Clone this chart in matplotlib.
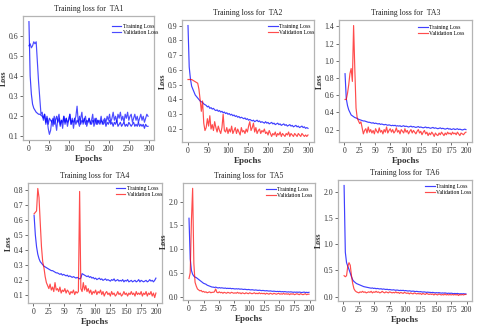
import matplotlib
matplotlib.use("Agg")
import matplotlib.pyplot as plt
import numpy as np
from matplotlib.ticker import MultipleLocator

plt.rcParams["font.family"] = ["Liberation Serif", "DejaVu Serif"]

# epochs sampled every 3 (300-epoch runs) or every 2 (200-epoch runs)
EPOCHS_300 = np.arange(1, 301, 3)
EPOCHS_200 = np.arange(1, 201, 2)

TA1_TRAIN = [
    0.67, 0.40, 0.31, 0.26, 0.24, 0.23, 0.22, 0.215, 0.21, 0.21,
    0.205, 0.20, 0.19, 0.21, 0.17, 0.20, 0.16, 0.19, 0.18, 0.17,
    0.19, 0.16, 0.18, 0.20, 0.17, 0.19, 0.15, 0.18, 0.17, 0.20,
    0.16, 0.19, 0.17, 0.18, 0.21, 0.16, 0.18, 0.17, 0.19, 0.16,
    0.18, 0.17, 0.20, 0.16, 0.18, 0.17, 0.19, 0.16, 0.18, 0.17,
    0.19, 0.17, 0.16, 0.18, 0.17, 0.19, 0.16, 0.18, 0.17, 0.16,
    0.18, 0.17, 0.16, 0.18, 0.15, 0.17, 0.16, 0.18, 0.16, 0.17,
    0.15, 0.17, 0.16, 0.18, 0.15, 0.16, 0.17, 0.15, 0.16, 0.17,
    0.15, 0.16, 0.15, 0.17, 0.16, 0.15, 0.16, 0.17, 0.15, 0.16,
    0.15, 0.17, 0.15, 0.16, 0.15, 0.16, 0.14, 0.16, 0.15, 0.15,
]
TA1_VAL = [
    0.55, 0.56, 0.54, 0.55, 0.57, 0.56, 0.57, 0.47, 0.37, 0.29,
    0.21, 0.22, 0.18, 0.21, 0.16, 0.19, 0.14, 0.11, 0.13, 0.18,
    0.15, 0.20, 0.17, 0.13, 0.19, 0.21, 0.16, 0.18, 0.14, 0.20,
    0.17, 0.19, 0.15, 0.18, 0.21, 0.16, 0.19, 0.14, 0.18, 0.20,
    0.25, 0.17, 0.15, 0.19, 0.22, 0.16, 0.18, 0.20, 0.15, 0.17,
    0.19, 0.16, 0.18, 0.21, 0.15, 0.17, 0.19, 0.16, 0.18, 0.17,
    0.20, 0.16, 0.18, 0.19, 0.17, 0.20, 0.18, 0.21, 0.17, 0.19,
    0.22, 0.18, 0.20, 0.17, 0.21, 0.19, 0.22, 0.18, 0.20, 0.17,
    0.21, 0.19, 0.22, 0.18, 0.20, 0.21, 0.17, 0.19, 0.21, 0.18,
    0.20, 0.17, 0.19, 0.21, 0.18, 0.20, 0.17, 0.19, 0.21, 0.20,
]

TA2_TRAIN = [
    0.90, 0.62, 0.54, 0.49, 0.47, 0.45, 0.43, 0.42, 0.41, 0.40,
    0.39, 0.385, 0.38, 0.37, 0.365, 0.36, 0.35, 0.355, 0.34, 0.345,
    0.335, 0.34, 0.33, 0.325, 0.33, 0.32, 0.325, 0.315, 0.32, 0.31,
    0.315, 0.305, 0.31, 0.30, 0.305, 0.295, 0.30, 0.29, 0.295, 0.285,
    0.29, 0.28, 0.285, 0.275, 0.28, 0.275, 0.27, 0.275, 0.265, 0.27,
    0.26, 0.265, 0.26, 0.255, 0.26, 0.25, 0.255, 0.26, 0.25, 0.255,
    0.245, 0.25, 0.245, 0.24, 0.25, 0.24, 0.245, 0.235, 0.24, 0.245,
    0.235, 0.24, 0.23, 0.235, 0.24, 0.23, 0.235, 0.225, 0.23, 0.235,
    0.225, 0.23, 0.22, 0.225, 0.23, 0.22, 0.225, 0.215, 0.22, 0.225,
    0.215, 0.22, 0.21, 0.215, 0.22, 0.21, 0.215, 0.205, 0.21, 0.205,
]
TA2_VAL = [
    0.535, 0.535, 0.535, 0.535, 0.53, 0.525, 0.52, 0.515, 0.51, 0.47,
    0.40, 0.32, 0.39, 0.24, 0.19, 0.21, 0.27, 0.22, 0.29, 0.20,
    0.23, 0.19, 0.25, 0.21, 0.18, 0.22, 0.19, 0.17, 0.21, 0.30,
    0.19, 0.18, 0.21, 0.17, 0.20, 0.18, 0.22, 0.17, 0.19, 0.21,
    0.17, 0.20, 0.18, 0.16, 0.21, 0.18, 0.19, 0.17, 0.20, 0.18,
    0.22, 0.25, 0.19, 0.21, 0.24, 0.18, 0.21, 0.17, 0.19, 0.20,
    0.17, 0.19, 0.18, 0.20, 0.17, 0.18, 0.16, 0.19, 0.17, 0.15,
    0.17, 0.16, 0.18, 0.15, 0.17, 0.16, 0.18, 0.15, 0.17, 0.16,
    0.15, 0.17, 0.16, 0.18, 0.15, 0.17, 0.16, 0.15, 0.17, 0.16,
    0.15, 0.17, 0.16, 0.15, 0.17, 0.16, 0.15, 0.16, 0.15, 0.16,
]

TA3_TRAIN = [
    0.85, 0.56, 0.48, 0.43, 0.40, 0.37, 0.36, 0.35, 0.34, 0.335,
    0.33, 0.32, 0.315, 0.31, 0.305, 0.30, 0.30, 0.295, 0.29, 0.285,
    0.285, 0.28, 0.275, 0.28, 0.27, 0.275, 0.27, 0.265, 0.27, 0.26,
    0.265, 0.26, 0.255, 0.26, 0.255, 0.25, 0.255, 0.25, 0.245, 0.25,
    0.245, 0.25, 0.24, 0.245, 0.24, 0.245, 0.235, 0.24, 0.245, 0.235,
    0.24, 0.235, 0.23, 0.235, 0.24, 0.23, 0.235, 0.23, 0.225, 0.23,
    0.235, 0.225, 0.23, 0.225, 0.22, 0.225, 0.23, 0.22, 0.225, 0.22,
    0.215, 0.22, 0.225, 0.215, 0.22, 0.215, 0.21, 0.215, 0.22, 0.21,
    0.215, 0.21, 0.205, 0.21, 0.215, 0.205, 0.21, 0.20, 0.205, 0.21,
    0.20, 0.205, 0.21, 0.20, 0.205, 0.20, 0.195, 0.20, 0.205, 0.20,
]
TA3_VAL = [
    0.55, 0.55, 0.62, 0.72, 0.85, 0.91, 0.76, 1.41, 0.90, 0.45,
    0.33, 0.30, 0.27, 0.29, 0.22, 0.15, 0.19, 0.21, 0.16, 0.23,
    0.17, 0.20, 0.16, 0.19, 0.15, 0.21, 0.18, 0.16, 0.22, 0.17,
    0.19, 0.15, 0.20, 0.17, 0.23, 0.16, 0.19, 0.21, 0.17, 0.20,
    0.16, 0.18, 0.22, 0.17, 0.19, 0.15, 0.20, 0.18, 0.16, 0.21,
    0.17, 0.19, 0.15, 0.18, 0.20, 0.16, 0.19, 0.17, 0.15, 0.18,
    0.20, 0.16, 0.18, 0.14, 0.17, 0.19, 0.15, 0.17, 0.13, 0.16,
    0.14, 0.17, 0.15, 0.12, 0.16, 0.14, 0.13, 0.16, 0.14, 0.17,
    0.15, 0.13, 0.16, 0.14, 0.17, 0.15, 0.16, 0.14, 0.17, 0.15,
    0.16, 0.14, 0.17, 0.15, 0.13, 0.16, 0.15, 0.14, 0.16, 0.17,
]

TA4_TRAIN = [
    0.63, 0.50, 0.42, 0.37, 0.34, 0.32, 0.31, 0.30, 0.29, 0.285,
    0.28, 0.275, 0.27, 0.265, 0.26, 0.26, 0.255, 0.25, 0.245, 0.245,
    0.24, 0.235, 0.24, 0.23, 0.235, 0.23, 0.225, 0.23, 0.22, 0.225,
    0.22, 0.215, 0.22, 0.215, 0.21, 0.215, 0.21, 0.205, 0.21, 0.24,
    0.235, 0.23, 0.225, 0.22, 0.225, 0.215, 0.22, 0.21, 0.215, 0.205,
    0.21, 0.20, 0.205, 0.21, 0.20, 0.205, 0.195, 0.20, 0.205, 0.195,
    0.20, 0.195, 0.19, 0.20, 0.195, 0.205, 0.19, 0.195, 0.20, 0.19,
    0.195, 0.19, 0.20, 0.185, 0.195, 0.19, 0.20, 0.185, 0.19, 0.195,
    0.185, 0.19, 0.195, 0.185, 0.19, 0.20, 0.185, 0.195, 0.19, 0.185,
    0.19, 0.195, 0.185, 0.19, 0.20, 0.19, 0.195, 0.185, 0.195, 0.21,
]
TA4_VAL = [
    0.64, 0.65, 0.66, 0.81, 0.75, 0.58, 0.42, 0.32, 0.28, 0.22,
    0.18, 0.16, 0.14, 0.17, 0.13, 0.15, 0.12, 0.18, 0.13, 0.14,
    0.12, 0.15, 0.11, 0.13, 0.12, 0.14, 0.11, 0.13, 0.12, 0.10,
    0.12, 0.11, 0.13, 0.10, 0.12, 0.11, 0.12, 0.79, 0.14, 0.12,
    0.18, 0.13, 0.16, 0.12, 0.14, 0.11, 0.13, 0.10, 0.12, 0.11,
    0.13, 0.10, 0.12, 0.11, 0.13, 0.10, 0.12, 0.09, 0.11, 0.12,
    0.10, 0.11, 0.09, 0.12, 0.10, 0.11, 0.09, 0.10, 0.12, 0.10,
    0.11, 0.09, 0.10, 0.12, 0.10, 0.11, 0.09, 0.11, 0.10, 0.12,
    0.10, 0.11, 0.09, 0.12, 0.10, 0.11, 0.10, 0.12, 0.09, 0.11,
    0.10, 0.12, 0.09, 0.11, 0.10, 0.12, 0.09, 0.11, 0.08, 0.11,
]

TA5_TRAIN = [
    1.65, 0.80, 0.55, 0.47, 0.43, 0.41, 0.40, 0.38, 0.36, 0.34,
    0.32, 0.30, 0.28, 0.27, 0.26, 0.24, 0.23, 0.22, 0.21, 0.20,
    0.20, 0.19, 0.20, 0.19, 0.18, 0.19, 0.18, 0.185, 0.18, 0.175,
    0.18, 0.17, 0.175, 0.17, 0.175, 0.165, 0.17, 0.165, 0.16, 0.165,
    0.16, 0.165, 0.155, 0.16, 0.155, 0.15, 0.155, 0.15, 0.145, 0.15,
    0.145, 0.14, 0.145, 0.14, 0.135, 0.14, 0.135, 0.13, 0.135, 0.13,
    0.125, 0.13, 0.125, 0.12, 0.125, 0.12, 0.115, 0.12, 0.115, 0.11,
    0.115, 0.11, 0.105, 0.11, 0.105, 0.11, 0.10, 0.105, 0.10, 0.105,
    0.10, 0.095, 0.10, 0.095, 0.10, 0.095, 0.09, 0.095, 0.09, 0.095,
    0.09, 0.095, 0.09, 0.085, 0.09, 0.095, 0.085, 0.09, 0.085, 0.09,
]
TA5_VAL = [
    0.38, 0.50, 1.60, 2.28, 0.70, 0.30, 0.22, 0.16, 0.14, 0.12,
    0.13, 0.10, 0.11, 0.09, 0.10, 0.08, 0.09, 0.10, 0.08, 0.09,
    0.09, 0.10, 0.16, 0.09, 0.08, 0.10, 0.08, 0.09, 0.07, 0.09,
    0.08, 0.07, 0.09, 0.08, 0.07, 0.09, 0.08, 0.07, 0.08, 0.07,
    0.09, 0.07, 0.08, 0.06, 0.08, 0.07, 0.06, 0.08, 0.07, 0.06,
    0.08, 0.07, 0.06, 0.07, 0.08, 0.06, 0.07, 0.06, 0.08, 0.06,
    0.07, 0.06, 0.07, 0.05, 0.07, 0.06, 0.05, 0.07, 0.06, 0.05,
    0.07, 0.06, 0.05, 0.06, 0.07, 0.05, 0.06, 0.05, 0.07, 0.05,
    0.06, 0.05, 0.06, 0.04, 0.06, 0.05, 0.06, 0.04, 0.05, 0.06,
    0.05, 0.04, 0.06, 0.05, 0.04, 0.05, 0.06, 0.04, 0.05, 0.05,
]

TA6_TRAIN = [
    2.13, 0.85, 0.65, 0.58, 0.52, 0.45, 0.38, 0.32, 0.29, 0.27,
    0.25, 0.24, 0.23, 0.22, 0.21, 0.20, 0.19, 0.185, 0.18, 0.175,
    0.17, 0.165, 0.16, 0.165, 0.155, 0.16, 0.15, 0.155, 0.15, 0.145,
    0.15, 0.14, 0.145, 0.14, 0.135, 0.14, 0.13, 0.135, 0.13, 0.125,
    0.13, 0.125, 0.12, 0.125, 0.12, 0.115, 0.12, 0.115, 0.12, 0.11,
    0.115, 0.11, 0.105, 0.11, 0.105, 0.10, 0.105, 0.10, 0.095, 0.10,
    0.095, 0.09, 0.095, 0.09, 0.085, 0.09, 0.085, 0.08, 0.085, 0.08,
    0.08, 0.075, 0.08, 0.075, 0.07, 0.075, 0.07, 0.075, 0.07, 0.065,
    0.07, 0.065, 0.07, 0.065, 0.06, 0.065, 0.06, 0.065, 0.06, 0.055,
    0.06, 0.055, 0.06, 0.055, 0.05, 0.055, 0.05, 0.055, 0.05, 0.05,
]
TA6_VAL = [
    0.40, 0.38, 0.40, 0.58, 0.65, 0.60, 0.40, 0.25, 0.15, 0.11,
    0.09, 0.08, 0.07, 0.09, 0.08, 0.10, 0.08, 0.09, 0.07, 0.08,
    0.09, 0.08, 0.10, 0.07, 0.09, 0.08, 0.10, 0.08, 0.09, 0.07,
    0.08, 0.10, 0.08, 0.07, 0.09, 0.08, 0.07, 0.09, 0.08, 0.07,
    0.08, 0.07, 0.09, 0.07, 0.08, 0.06, 0.08, 0.07, 0.06, 0.08,
    0.07, 0.06, 0.07, 0.05, 0.07, 0.06, 0.05, 0.07, 0.06, 0.05,
    0.06, 0.05, 0.06, 0.04, 0.06, 0.05, 0.04, 0.06, 0.05, 0.04,
    0.05, 0.04, 0.05, 0.03, 0.05, 0.04, 0.03, 0.05, 0.04, 0.03,
    0.04, 0.03, 0.05, 0.03, 0.04, 0.03, 0.04, 0.03, 0.04, 0.03,
    0.04, 0.03, 0.04, 0.02, 0.04, 0.03, 0.04, 0.03, 0.04, 0.04,
]

W, H = 480, 326
FRAME = "#b4b4b4"
TXT = "#333333"

# (name, epochs, train, val, val colour, x step, y step,
#  pixel box l, r, top, bottom, legend shift dx, dy in px)
PANELS = [
    ("TA1", EPOCHS_300, TA1_TRAIN, TA1_VAL, "blue", 50, 0.1, (23, 154, 16, 140), (8, 4)),
    ("TA2", EPOCHS_300, TA2_TRAIN, TA2_VAL, "red", 50, 0.1, (182, 314, 20, 142), (4, 0)),
    ("TA3", EPOCHS_200, TA3_TRAIN, TA3_VAL, "red", 25, 0.2, (339, 472, 20, 142), (-4, 1)),
    ("TA4", EPOCHS_200, TA4_TRAIN, TA4_VAL, "red", 25, 0.1, (28, 162, 183, 303), (4, -1)),
    ("TA5", EPOCHS_200, TA5_TRAIN, TA5_VAL, "red", 25, 0.5, (183, 315, 183, 300), (1, 0)),
    ("TA6", EPOCHS_200, TA6_TRAIN, TA6_VAL, "red", 25, 0.5, (338, 472, 180, 301), (3, 0)),
]

fig = plt.figure(figsize=(W / 100, H / 100), dpi=100)

for name, ep, tr, va, vcol, xstep, ystep, (l, r, t, b), (dx, dy) in PANELS:
    aw, ah = r - l, b - t
    ax = fig.add_axes([l / W, (H - b) / H, aw / W, ah / H])
    ax.plot(ep, tr, color="blue", alpha=0.75, lw=0.85, label="Training Loss")
    ax.plot(ep, va, color=vcol, alpha=0.7, lw=0.85, label="Validation Loss")
    ax.xaxis.set_major_locator(MultipleLocator(xstep))
    ax.yaxis.set_major_locator(MultipleLocator(ystep))
    ax.yaxis.set_major_formatter(plt.FormatStrFormatter("%.1f"))
    for s in ax.spines.values():
        s.set_color(FRAME)
        s.set_linewidth(0.9)
    ax.tick_params(labelsize=5.6, length=2, width=0.5, pad=1.5,
                   colors=TXT)
    ax.set_title(f"Training loss for  {name}", fontsize=5.6, pad=3.5,
                 color="#222222")
    ax.set_xlabel("Epochs", fontsize=6.5, fontweight="bold", labelpad=1.5,
                  color=TXT)
    ax.set_ylabel("Loss", fontsize=5.8, fontweight="bold", labelpad=0.3,
                  color=TXT)
    ax.legend(loc="upper right", bbox_to_anchor=(1 + dx / aw, 1 - dy / ah),
              fontsize=4.1, frameon=False, handlelength=1.7,
              handletextpad=0.2, labelspacing=0.2, borderaxespad=0.3)

fig.savefig("out.png", dpi=100, facecolor="white")
